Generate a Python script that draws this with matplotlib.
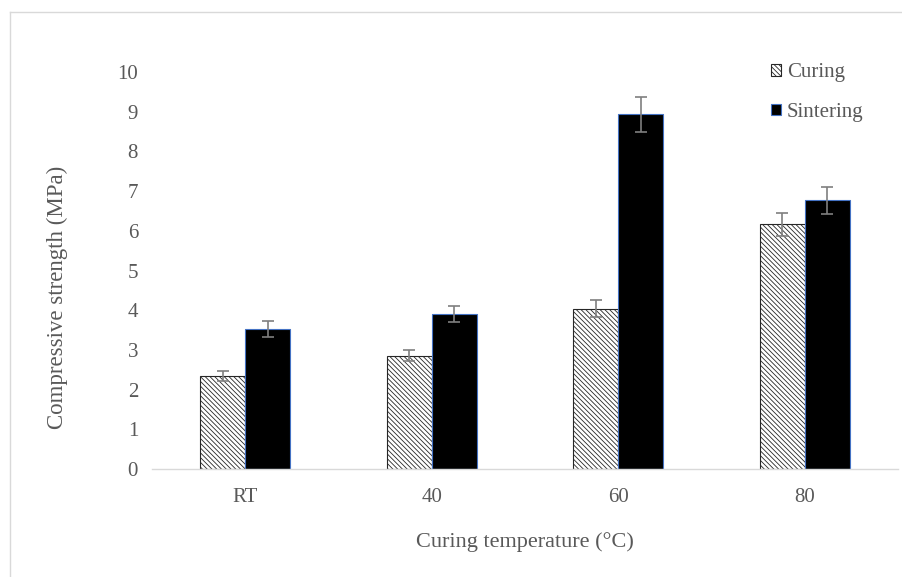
import matplotlib.pyplot as plt
import numpy as np
from matplotlib.lines import Line2D

plt.rcParams['font.family'] = ['Liberation Serif', 'DejaVu Serif']
plt.rcParams['hatch.linewidth'] = 0.6

# compressive strength (MPa) per curing temperature
temps = ['RT', '40', '60', '80']
curing = [2.34, 2.85, 4.04, 6.16]
curing_err = [0.13, 0.14, 0.21, 0.30]
sintering = [3.53, 3.90, 8.93, 6.77]
sintering_err = [0.20, 0.20, 0.43, 0.34]

TEXT = '#595959'

fig = plt.figure(figsize=(9.02, 5.77), dpi=100)
ax = fig.add_axes([152 / 902, 1 - 469 / 577, 746 / 902, 397 / 577])

x = np.arange(len(temps))
w = 0.242
ax.bar(x - w / 2, curing, w, color='white', edgecolor='#262626', linewidth=0.8,
       hatch='\\\\\\\\\\\\\\', yerr=curing_err, capsize=4,
       error_kw=dict(ecolor='#7f7f7f', elinewidth=1.2, capthick=1.2), label='Curing')
ax.bar(x + w / 2, sintering, w, color='black', edgecolor='#4472c4', linewidth=0.8,
       yerr=sintering_err, capsize=4,
       error_kw=dict(ecolor='#7f7f7f', elinewidth=1.2, capthick=1.2), label='Sintering')

ax.set_xlim(-0.5, len(temps) - 0.5)
ax.set_ylim(0, 10)
ax.set_yticks(range(0, 11))
ax.set_xticks(x)
ax.set_xticklabels(temps)
for s in ['top', 'right', 'left']:
    ax.spines[s].set_visible(False)
ax.spines['bottom'].set_color('#d9d9d9')
ax.spines['bottom'].set_linewidth(1.0)
ax.tick_params(axis='both', length=0, labelsize=15, labelcolor=TEXT)
ax.tick_params(axis='y', pad=10)
ax.tick_params(axis='x', pad=14)

ax.set_xlabel('Curing temperature (°C)', fontsize=16, color=TEXT, labelpad=18)
ax.set_ylabel('Compressive strength (MPa)', fontsize=16.5, color=TEXT)
ax.yaxis.set_label_coords(-0.113, 0.433)

ax.legend(loc='upper left', bbox_to_anchor=(771 / 902, 1 - 63 / 577),
          bbox_transform=fig.transFigure, frameon=False, fontsize=15,
          labelcolor=TEXT, handlelength=0.5, handleheight=0.5,
          handletextpad=0.25, labelspacing=1.0, borderaxespad=0, borderpad=0)

# light outer frame
fig.add_artist(Line2D([10 / 902, 1], [1 - 12 / 577, 1 - 12 / 577],
                      transform=fig.transFigure, color='#d9d9d9', linewidth=1))
fig.add_artist(Line2D([10 / 902, 10 / 902], [0, 1 - 12 / 577],
                      transform=fig.transFigure, color='#d9d9d9', linewidth=1))

fig.savefig('out.png', dpi=100)
